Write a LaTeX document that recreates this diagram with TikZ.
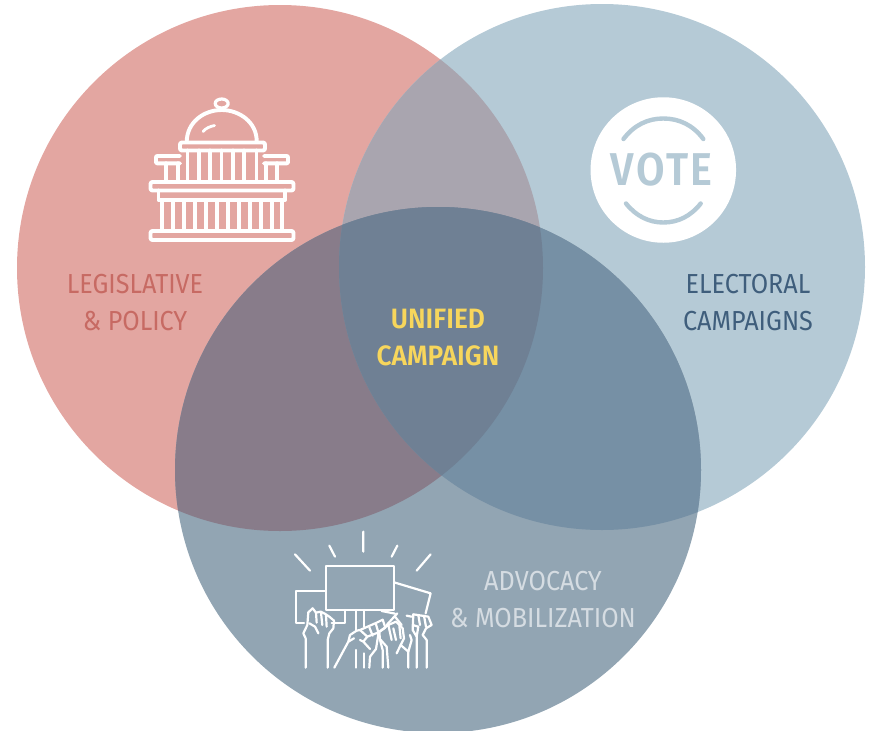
\documentclass[tikz,border=0pt]{standalone}
\usepackage{fontspec}
\setmainfont{Fira Sans}[FakeStretch=0.915]
\newfontfamily\boldlabel{Fira Sans SemiBold}[FakeStretch=0.94]
\newfontfamily\votefont{Fira Sans SemiBold}[FakeStretch=0.9,LetterSpace=6]
\definecolor{cRed}{HTML}{E3A6A1}
\definecolor{cBlue}{HTML}{B5CAD6}
\definecolor{cLow}{HTML}{92A5B3}
\definecolor{cRB}{HTML}{A9A5AF}
\definecolor{cRL}{HTML}{887C8A}
\definecolor{cBL}{HTML}{7690A5}
\definecolor{cAll}{HTML}{6F8094}
\definecolor{tRed}{HTML}{C76A63}
\definecolor{tBlue}{HTML}{3F5E7C}
\definecolor{tYel}{HTML}{F7D65C}
\definecolor{tPale}{HTML}{D5DCE2}
\tikzset{
  lbl/.style={font=\fontsize{27.5}{29}\selectfont,inner sep=0pt,anchor=center},
  lblb/.style={font=\boldlabel\fontsize{28}{30}\selectfont,inner sep=0pt,anchor=center,text=tYel},
  icon/.style={draw=white,line width=3.9pt,line join=round,line cap=round},
  thin icon/.style={draw=white,line width=2.2pt,line join=round,line cap=round},
  votearc/.style={draw=cBlue,line width=4.4pt,line cap=round}
}
\begin{document}
\begin{tikzpicture}[x=1pt,y=-1pt]
\useasboundingbox (0,0) rectangle (871,731);
\path[clip] (0,0) rectangle (871,731);
\def\cR{(280,268) circle[radius=263]}
\def\cB{(602,267) circle[radius=263]}
\def\cL{(438,470) circle[radius=263]}
\fill[cRed] \cR;
\fill[cBlue] \cB;
\fill[cLow] \cL;
\begin{scope}\clip \cR; \fill[cRB] \cB; \fill[cRL] \cL; \end{scope}
\begin{scope}\clip \cB; \fill[cBL] \cL; \end{scope}
\begin{scope}\clip \cR; \clip \cB; \fill[cAll] \cL; \end{scope}
% capitol
\draw[icon] (186.7,141.7) .. controls (187,122) and (204,110) .. (221.7,110) .. controls (239,110) and (257,122) .. (256.7,141.7);
\draw[icon,line width=3.2pt] (221.7,103.5) ellipse[x radius=6.5,y radius=4.5];
\draw[icon,line width=2.8pt] (203,131.5) .. controls (206,128) and (210,126.5) .. (214.5,125.5);
\draw[icon,rounded corners=1.5pt] (180,142.5) rectangle (265,150.5);
\foreach \x in {187.5,199,210,221.5,233,244,256.5} \draw[icon] (\x,150.5) -- (\x,181.7);
\draw[icon,rounded corners=1pt] (180,163.3) -- (156,163.3) -- (156,156) -- (180,156);
\draw[icon,rounded corners=1pt] (264,156) -- (288,156) -- (288,163.3) -- (264,163.3);
\draw[icon] (166,163.3) -- (166,181.7) (178,163.3)--(178,181.7) (266,163.3)--(266,181.7) (277,163.3)--(277,181.7);
\draw[icon,rounded corners=2pt] (150.5,182) rectangle (293.5,190.5);
\draw[icon] (158.5,190.5) -- (158.5,200) -- (285,200) -- (285,190.5);
\foreach \x in {162,173,184,195,206,217,228,239,250,261,272,282} \draw[icon] (\x,200) -- (\x,230.5);
\draw[icon,rounded corners=2pt] (150.5,231) rectangle (293.5,240);
% vote badge
\node[circle,fill=white,minimum size=145.5pt,inner sep=0pt] (badge) at (663.3,170) {};
\draw[votearc] (623.5,139) .. controls (634,125) and (648,118.5) .. (663.3,118.5) .. controls (679,118.5) and (693,125) .. (703.3,139);
\draw[votearc] (626,203.5) .. controls (636,216) and (649,222.5) .. (663.3,222.5) .. controls (678,222.5) and (691,216) .. (700.7,203.5);
\node[inner sep=0pt,text=cBlue,font=\votefont\fontsize{46}{48}\selectfont] (vote) at (661.5,169.5) {VOTE};
% labels
\node[lbl,text=tRed] (leg1) at (135,284) {LEGISLATIVE};
\node[lbl,text=tRed] (leg2) at (135,321) {\&\ POLICY};
\node[lbl,text=tBlue] (ele1) at (748,284) {ELECTORAL};
\node[lbl,text=tBlue] (ele2) at (748,321) {CAMPAIGNS};
\node[lblb] (uni1) at (438,319) {UNIFIED};
\node[lblb] (uni2) at (438,356) {CAMPAIGN};
\node[lbl,text=tPale] (adv1) at (543,581) {ADVOCACY};
\node[lbl,text=tPale] (adv2) at (543,618) {\&\ MOBILIZATION};
% protest
\begin{scope}[shift={(280,525)},x=0.3333pt,y=-0.3333pt]
\draw[thin icon] (250,20)--(250,80) (148,62)--(165,95) (45,88)--(90,137) (352,62)--(335,95) (452,88)--(410,137);
\draw[thin icon] (137,122) rectangle (342,255);
\draw[thin icon] (137,197)--(48,197)--(48,293)--(72,293) (155,293)--(195,293)--(195,255);
\draw[thin icon] (342,172)--(452,205)--(437,265) (305,258)--(345,266) (380,272)--(395,275);
% poles
\draw[thin icon] (228,255)--(228,318) (252,255)--(252,305) (228,375)--(228,428) (252,385)--(252,428);
% hand 1
\draw[thin icon] (77,428)--(77,340)--(70,325)--(82,300)--(85,262)--(98,250)--(108,263)--(122,260)--(136,267)--(148,275)--(162,287)--(160,310)--(148,325)--(143,345)--(143,428);
\draw[thin icon] (108,263)--(110,293) (123,263)--(127,300) (138,270)--(140,305) (88,295)--(105,305)--(115,325);
% hand 2
\draw[thin icon] (163,428)--(205,350)--(210,330)--(230,317)--(240,315)--(290,293)--(308,284)--(316,308)--(296,322)--(288,372)--(270,395)--(268,428);
\draw[thin icon] (240,315)--(262,335)--(250,350)--(270,372) (250,350)--(240,345) (262,335)--(296,322) (268,307)--(278,332) (288,298)--(295,322) (205,350)--(222,340);
% hand 3
\draw[thin icon] (308,428)--(308,375)--(300,345)--(298,320)--(325,300)--(348,290)--(368,310)--(372,340)--(362,360)--(385,380)--(395,345)--(390,330);
\draw[thin icon] (325,300)--(335,345) (340,310)--(348,345) (358,302)--(362,340) (298,340)--(320,365)--(325,428) (362,360)--(350,385) (385,380)--(385,428);
\draw[thin icon] (320,300)--(352,265) (345,275)--(365,300);
% hand 4
\draw[thin icon] (410,428)--(410,335)--(398,315)--(400,268)--(445,275)--(455,300)--(438,310)--(428,330)--(440,345)--(440,428);
\draw[thin icon] (398,300)--(415,305)--(410,335) (415,270)--(420,300) (432,272)--(438,305);
\end{scope}
\end{tikzpicture}
\end{document}
